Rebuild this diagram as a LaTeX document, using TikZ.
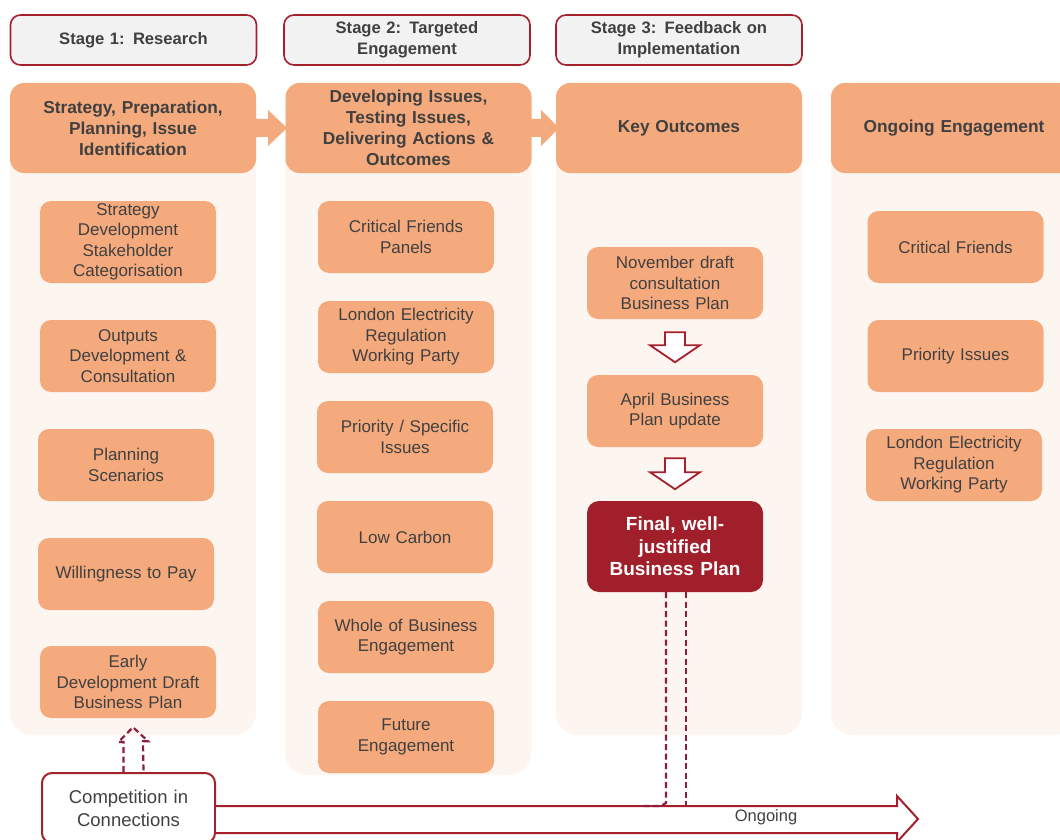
\documentclass[tikz,border=0pt]{standalone}
\usepackage{fontspec}
\setmainfont{Liberation Sans}
\usetikzlibrary{calc}
\definecolor{salmon}{HTML}{F5AA7D}
\definecolor{panelc}{HTML}{FDF5EF}
\definecolor{stagefill}{HTML}{F2F2F2}
\definecolor{darkred}{HTML}{A5202C}
\definecolor{finalred}{HTML}{A11F2A}
\definecolor{txt}{HTML}{404040}
\definecolor{dashc}{HTML}{8E1B46}
\tikzset{
  panel/.style={fill=panelc, draw=none, rounded corners=22pt, minimum width=246pt, inner sep=0pt},
  headbox/.style={fill=salmon, draw=none, rounded corners=14pt, minimum width=246pt, minimum height=90pt, inner sep=0pt, text width=235pt, align=center, text=txt, font=\fontsize{17.3}{21}\selectfont\bfseries},
  stagebox/.style={fill=stagefill, draw=darkred, line width=1.6pt, rounded corners=10pt, minimum width=246pt, minimum height=50pt, inner sep=0pt, text width=235pt, align=center, text=txt, font=\fontsize{16.6}{21}\selectfont\bfseries},
  item/.style={fill=salmon, draw=none, rounded corners=11pt, minimum width=176pt, minimum height=72pt, inner sep=0pt, text width=172pt, align=center, text=txt, font=\fontsize{17}{20.5}\selectfont},
  finalbox/.style={fill=finalred, draw=none, rounded corners=12pt, minimum width=176pt, minimum height=91pt, inner sep=0pt, text width=172pt, align=center, text=white, font=\fontsize{19}{22.5}\selectfont\bfseries},
  compbox/.style={fill=white, draw=darkred, line width=2pt, rounded corners=10pt, minimum width=173pt, minimum height=70pt, inner sep=0pt, text width=170pt, align=center, text=txt, font=\fontsize{18.5}{23}\selectfont},
  blockarrow/.style={fill=white, draw=darkred, line width=1.8pt, line join=miter},
  dashline/.style={draw=dashc, dashed, dash pattern=on 6pt off 3.5pt, line width=2.2pt},
}
\begin{document}
\begin{tikzpicture}[x=1pt,y=-1pt]
\clip (0,0) rectangle (1060,840);
\fill[white] (0,0) rectangle (1060,840);
% panels
\node[panel, minimum height=652pt] (p1) at (133,409) {};
\node[panel, minimum height=692pt] (p2) at (408,429) {};
\node[panel, minimum height=652pt] (p3) at (679,409) {};
\node[panel, minimum height=652pt] (p4) at (954,409) {};
% header connector arrows
\fill[salmon] (248,119) -- (268,119) -- (268,110) -- (287,128) -- (268,146) -- (268,137) -- (248,137) -- cycle;
\fill[salmon] (524,119) -- (541,119) -- (541,110) -- (559,128) -- (541,146) -- (541,137) -- (524,137) -- cycle;
% headers
\node[headbox] (h1) at (133,128) {Strategy, Preparation,\\Planning, Issue\\Identification};
\node[headbox] (h2) at (408.5,128) {Developing Issues,\\Testing Issues,\\Delivering Actions \&\\Outcomes};
\node[headbox] (h3) at (679,128) {Key Outcomes};
\node[headbox] (h4) at (954,128) {Ongoing Engagement};
% stage headers
\node[stagebox] (s1) at (133.5,40) {Stage 1: Research};
\node[stagebox] (s2) at (407,40) {Stage 2: Targeted\\Engagement};
\node[stagebox] (s3) at (679,40) {Stage 3: Feedback on\\Implementation};
% column 1
\node[item, minimum height=82pt] (a1) at (128,242) {Strategy\\Development\\Stakeholder\\Categorisation};
\node[item] (a2) at (128,356) {Outputs\\Development \&\\Consultation};
\node[item] (a3) at (126,465) {Planning\\Scenarios};
\node[item] (a4) at (126,574) {Willingness to Pay};
\node[item] (a5) at (128,682) {Early\\Development Draft\\Business Plan};
% column 2
\node[item] (b1) at (406,237) {Critical Friends\\Panels};
\node[item] (b2) at (406,337) {London Electricity\\Regulation\\Working Party};
\node[item] (b3) at (405,437) {Priority / Specific\\Issues};
\node[item] (b4) at (405,537) {Low Carbon};
\node[item] (b5) at (406,637) {Whole of Business\\Engagement};
\node[item] (b6) at (406,737) {Future\\Engagement};
% column 3
\node[item] (c1) at (675,283) {November draft\\consultation\\Business Plan};
\node[item] (c2) at (675,411) {April Business\\Plan update};
\node[finalbox] (c3) at (675,546.5) {Final, well-\\justified\\Business Plan};
% column 4
\node[item] (d1) at (955.5,247) {Critical Friends};
\node[item] (d2) at (955.5,356) {Priority Issues};
\node[item] (d3) at (954,465) {London Electricity\\Regulation\\Working Party};
% down block arrows
\draw[blockarrow] ($(c1.south)+(-10,13)$) -- ++(0,13) -- ++(-15,0) -- ++(25,17) -- ++(25,-17) -- ++(-15,0) -- ++(0,-13) -- cycle;
\draw[blockarrow] ($(c2.south)+(-10,11)$) -- ++(0,14) -- ++(-15,0) -- ++(25,17) -- ++(25,-17) -- ++(-15,0) -- ++(0,-14) -- cycle;
% competition box
\node[compbox] (comp) at (128.5,808) {Competition in\\Connections};
% ongoing arrow
\draw[blockarrow, line width=2pt] (comp.east |- 0,806) -- (897,806) -- (897,796) -- (918,819) -- (897,842) -- (897,833) -- (comp.east |- 0,833);
\node[text=txt, font=\fontsize{16.5}{18}\selectfont] (ong) at (766,817) {Ongoing};
% dashed lines from final plan down to ongoing arrow
\coordinate (fl) at ($(c3.south)+(-9,0)$);
\coordinate (fr) at ($(c3.south)+(11,0)$);
\draw[dashline] (fl) -- (fl |- 0,803) -- ++(-5,3) -- ++(-18,0);
\draw[dashline] (fr) -- (fr |- 0,805);
% dashed up arrow from competition to early development
\draw[dashline] ($(comp.north)+(-5,0)$) -- ++(0,-30) -- ++(-5,0) -- ($(a5.south)+(5,9)$) -- ++(15,14) -- ++(-5,0) -- ($(comp.north)+(15,0)$);
\end{tikzpicture}
\end{document}
